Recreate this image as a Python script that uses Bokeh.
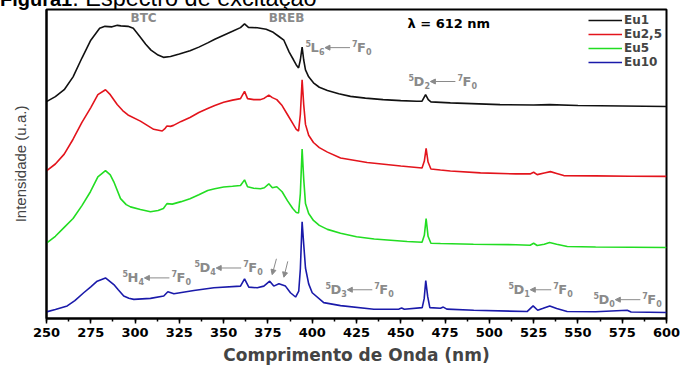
from bokeh.plotting import figure
from bokeh.models import (Range1d, Legend, LegendItem, SingleIntervalTicker,
                          FixedTicker, Arrow, NormalHead, Div)
from bokeh.layouts import column
from bokeh.embed import file_html
from bokeh.resources import INLINE
from bokeh.core.properties import value

# ---------------- data (vertical offsets included) ----------------
wl_eu1 = [250, 255, 260, 265, 270, 275, 280, 283, 287, 290, 292, 296, 299, 303, 306, 309, 313, 316, 320, 325,
          331, 336, 341, 345, 350, 355, 359.5, 361.8, 364, 369, 374, 378, 381, 384, 387, 389.5, 391, 392.3, 393.3, 394.3,
          395.2, 396.2, 398, 400.7, 404, 408.6, 415, 421.6, 430, 440, 450, 459, 462, 464, 465.5, 467, 478, 490, 506, 525,
          534, 550, 575, 600]
eu1 = [219, 224, 231, 244, 263, 281, 293, 295, 294.5, 296, 295.5, 295, 293, 284, 277, 271, 266, 263.7, 264.5, 267,
       270.3, 274, 278.3, 282, 286, 290, 293.7, 297.5, 294, 293.5, 292, 289, 285, 281, 269, 261, 256, 253, 261, 274,
       261, 251, 244, 238, 233.5, 230.3, 227, 224.3, 222.5, 221, 220, 219.3, 219.5, 226, 221, 218.7, 217.7, 217, 216, 215.5,
       216, 215, 214.5, 214]

wl_eu25 = [250, 255, 260, 265, 270, 275, 279, 283.3, 286, 289.9, 293, 296, 303, 310.5, 315.3, 317, 318, 320,
           321.7, 326, 331, 336, 341, 345, 350, 355, 359.5, 361.8, 363.5, 367, 370.8, 373, 375.5, 377.5, 380, 383, 386, 389,
           391, 392.3, 393.3, 394.3, 395.2, 396.2, 398, 400.7, 404, 408.6, 416, 431, 450, 462, 463.3, 464.3, 465.4, 467,
           472.4, 478, 495, 515, 523, 525, 527, 531, 534.5, 538, 542, 560, 580, 600]
eu25 = [149, 156, 166, 181, 198, 213, 226, 231, 226, 216, 210, 205.5, 199.3, 191, 189.3, 192, 194.3, 194,
        195, 199, 203, 208, 212, 215, 218.3, 220.5, 222, 229.3, 222, 221, 221, 222.5, 225.5, 223, 221, 215, 206, 197,
        191, 189.3, 206, 241, 216, 196, 185, 177.7, 172.5, 168, 162, 157.5, 154, 152, 159, 171.7, 158, 151,
        150, 149, 147, 146, 146, 147.7, 145.3, 147, 148.3, 146.5, 144.3, 144, 143.7, 143.5]

wl_eu5 = [250, 255, 260, 265, 270, 274.8, 279, 283.3, 286, 288, 291.8, 295, 297.4, 303, 308.7, 313, 316, 318, 321, 326,
          331, 336, 341, 345, 350, 355, 359.5, 361.8, 363.5, 367, 370.8, 373, 375.5, 377.5, 380, 383, 386, 389, 391, 392.3,
          393.3, 394.3, 395.2, 396.2, 398, 400.7, 404, 408.6, 416, 425, 435, 453.6, 462, 463.3, 464.3, 465.4, 467, 472.4,
          491, 515, 523, 525, 527, 531, 534, 538, 544, 560, 580, 600]
eu5 = [76, 83, 92, 101, 114, 128, 143, 149.3, 145, 138, 121, 115, 112.7, 110, 107.7, 109, 111, 116, 115.5, 118,
       121, 125, 129.3, 131, 132.7, 133.5, 134.3, 140, 133, 131.5, 131, 132, 136, 132, 133, 128, 119, 111, 107, 106.5,
       126, 171, 141, 116, 106, 99, 94, 90, 86, 82.5, 80.3, 77.7, 77, 84, 101, 83, 76, 75.7,
       75, 74.5, 74, 76, 73.7, 75, 76.7, 75, 72.7, 72.2, 72, 71.7]

wl_eu10 = [250, 255, 261.7, 266, 271, 275, 278.6, 283.3, 288, 290.5, 293.6, 296.5, 299.3, 308.7, 316.2, 318.5, 321.9,
           333.2, 344.5, 359.5, 361.8, 364.2, 369, 372.7, 376, 378.3, 381.2, 384.9, 387.7, 390.6, 392.4, 393.3, 394.3,
           395.2, 396.2, 398, 400, 406.5, 416, 434.8, 449, 450.5, 452, 462.1, 463.2, 464.1, 465.2, 466.4, 472.4, 474,
           476, 491.2, 521.3, 524.7, 527.3, 530, 534.1, 538, 543.9, 560, 577.8, 580, 600]
eu10 = [6.7, 9, 12.7, 18, 26, 32, 37.7, 41, 34.3, 29, 22.7, 20.5, 19.3, 20.3, 22.7, 27, 25,
        28.3, 31, 32.7, 40, 31.7, 31, 32.7, 37.7, 32.7, 35, 32.7, 26, 21.7, 27.7, 50, 97.7,
        75, 51, 35, 26, 16, 13, 9.3, 9.5, 10.5, 9.3, 11, 20, 38.3, 22, 11, 10.3, 11.5,
        9.5, 8.3, 7, 12.7, 8.3, 10, 12.7, 10, 7, 6.8, 8.3, 6.5, 6]

series_names = ["Eu1", "Eu2,5", "Eu5", "Eu10"]
series_colors = ["#111111", "#e3141c", "#22dd22", "#1a1aaa"]
x_ticks_step = 25

# ---------------- figure ----------------
p = figure(width=680, height=367, x_range=Range1d(250, 600), y_range=Range1d(0, 312),
           output_backend="svg", toolbar_location=None,
           min_border_left=46, min_border_top=9, min_border_right=14, min_border_bottom=40)
p.border_fill_color = None          # lets the caption above the frame show through
p.xgrid.grid_line_color = None
p.ygrid.grid_line_color = None
p.outline_line_color = "#000000"
p.outline_line_width = 2

p.xaxis.ticker = SingleIntervalTicker(interval=x_ticks_step, num_minor_ticks=2)
p.xaxis.axis_line_width = 2
p.xaxis.major_tick_in = 0
p.xaxis.major_tick_out = 5
p.xaxis.minor_tick_in = 0
p.xaxis.minor_tick_out = 3
p.xaxis.major_tick_line_width = 1.5
p.xaxis.minor_tick_line_width = 1.5
p.xaxis.major_label_text_font = "DejaVu Sans"
p.xaxis.major_label_text_font_style = "bold"
p.xaxis.major_label_text_font_size = "13px"
p.xaxis.major_label_text_color = "#000000"
p.xaxis.major_label_standoff = 4
p.xaxis.axis_label = "Comprimento de Onda (nm)"
p.xaxis.axis_label_text_font = "DejaVu Sans"
p.xaxis.axis_label_text_font_style = "bold"
p.xaxis.axis_label_text_font_size = "17px"
p.xaxis.axis_label_standoff = 5

p.yaxis.ticker = FixedTicker(ticks=[])
p.yaxis.axis_line_width = 2
p.yaxis.major_tick_line_color = None
p.yaxis.minor_tick_line_color = None
p.yaxis.axis_label = "Intensidade (u.a.)"
p.yaxis.axis_label_text_font = "Liberation Sans"
p.yaxis.axis_label_text_font_style = "normal"
p.yaxis.axis_label_text_font_size = "15px"
p.yaxis.axis_label_standoff = 18

renderers = []
for wl, ys, c in zip([wl_eu1, wl_eu25, wl_eu5, wl_eu10], [eu1, eu25, eu5, eu10], series_colors):
    renderers.append(p.line(wl, ys, line_color=c, line_width=1.6))

legend = Legend(items=[LegendItem(label=n, renderers=[r]) for n, r in zip(series_names, renderers)],
                location="top_right", border_line_color=None, background_fill_alpha=0,
                label_text_font="DejaVu Sans", label_text_font_style="bold", label_text_font_size="12px",
                glyph_width=34, glyph_height=12, label_standoff=2, spacing=0, padding=5, margin=4)
p.add_layout(legend)

# ---------------- annotations ----------------
GRAY = "#8a8a8a"
NM_PER_PX = 350 / 620.0
FONT = value("DejaVu Sans")


def txt(x, y, t, size, dx=0, dy=0, color=GRAY, align="left"):
    p.text(x=[x], y=[y], text=[t], x_offset=dx, y_offset=dy, text_font=FONT,
           text_font_style="bold", text_font_size=value(size), text_color=color,
           text_align=align, text_baseline="middle")


def transition(x, y, letter, sub, arrow_px=25):
    w = {"L": 8.5, "D": 10.8, "H": 10.9}[letter]
    txt(x, y, "5", "8px", 0, -4)
    txt(x, y, letter, "13px", 5, 0)
    txt(x, y, sub, "8px", 5 + w, 4)
    a0 = 5 + w + 6
    a1 = a0 + arrow_px
    p.add_layout(Arrow(end=NormalHead(size=5, fill_color=GRAY, line_color=GRAY),
                       line_color=GRAY, line_width=1,
                       x_start=x + a1 * NM_PER_PX, y_start=y,
                       x_end=x + a0 * NM_PER_PX, y_end=y))
    txt(x, y, "7", "8px", a1 + 2, -4)
    txt(x, y, "F", "13px", a1 + 7, 0)
    txt(x, y, "0", "8px", a1 + 16, 4)


transition(396.2, 273.5, "L", "6")
transition(454.4, 239.3, "D", "2")
transition(292.9, 41, "H", "4")
transition(333.5, 51, "D", "4")
transition(407.5, 29, "D", "3")
transition(510.8, 29, "D", "1", arrow_px=21)
transition(558.8, 19, "D", "0")

txt(304.8, 303, "BTC", "12px", align="center")
txt(385.5, 303, "BREB", "12px", align="center")
txt(453.8, 298.3, "λ = 612 nm", "13px", color="#000000")

for xs, ys, xe, ye in [(379.8, 60.3, 377.4, 44.3), (386.2, 57.7, 384.0, 41.7)]:
    p.add_layout(Arrow(end=NormalHead(size=5, fill_color=GRAY, line_color=GRAY),
                       line_color=GRAY, line_width=1,
                       x_start=xs, y_start=ys, x_end=xe, y_end=ye))

# figure caption: sits mostly above the window's top edge, as in the reference
caption = Div(text='<span style="font-size:20px;font-weight:bold">Figura1</span>: Espectro de excitação',
              width=400, height=13, margin=(-13, 0, 0, 0),
              styles={"font-family": "'Liberation Sans', Arial, sans-serif", "font-size": "23.5px",
                      "line-height": "23px", "white-space": "nowrap", "overflow": "visible",
                      "color": "#000000"})

layout = column(caption, p)
open("out.html", "w").write(file_html(layout, INLINE))
